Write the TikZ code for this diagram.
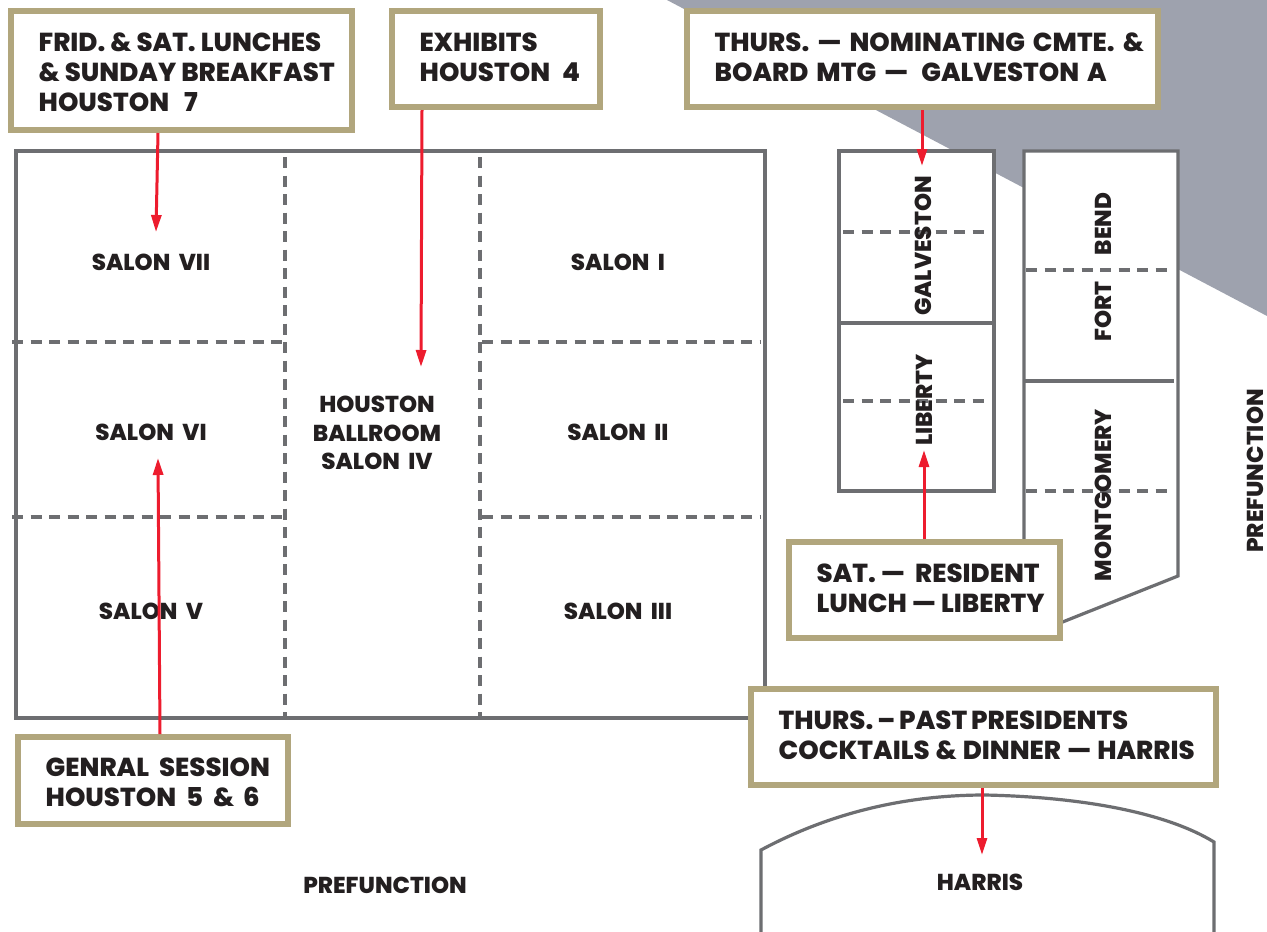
\documentclass[tikz,border=0pt]{standalone}
\usepackage{fontspec}
\setmainfont{Poppins}[BoldFont={Poppins ExtraBold}]
\usetikzlibrary{arrows.meta,calc}
\definecolor{wall}{HTML}{6D6E71}
\definecolor{tan}{HTML}{B1A67D}
\definecolor{slate}{HTML}{9EA2AE}
\definecolor{redline}{HTML}{ED1C2E}
\definecolor{ink}{HTML}{231F20}
\newcommand{\boxfont}{\fontsize{26}{30.2}\selectfont\bfseries}
\newcommand{\labfont}{\fontsize{23}{28.5}\selectfont\bfseries}
\newcommand{\gap}[1]{\hspace{#1pt}}
\tikzset{
 x=1pt,y=-1pt,
 wallline/.style={draw=wall,line width=3.2pt},
 dashline/.style={draw=wall,line width=3.2pt,dash pattern=on 11pt off 7.5pt},
 callout/.style={draw=tan,line width=6pt,fill=white,anchor=north west,inner sep=0pt},
 calltext/.style={text=ink,font=\boxfont,anchor=west,align=left,inner sep=0pt},
 roomlabel/.style={text=ink,font=\labfont,inner sep=0pt,align=center},
 leader/.style={draw=redline,line width=3pt,-{Triangle[length=17pt,width=10pt]}},
}
\newcommand{\callbox}[7]{% name, x0,y0,x1,y1, text centre y, text
 \pgfmathsetmacro{\bw}{#4-#2-6}\pgfmathsetmacro{\bh}{#5-#3-6}
 \node[callout,minimum width=\bw pt,minimum height=\bh pt] (#1) at (#2,#3) {};
 \node[calltext] (#1t) at (#2+30.5,#6) {#7};
}
\begin{document}
\begin{tikzpicture}
\useasboundingbox (0,0) rectangle (1267,932);
\fill[white] (0,0) rectangle (1267,932);
\fill[slate] (667,0) -- (1267,316) -- (1267,0) -- cycle;
% main ballroom
\draw[wallline,fill=white] (16,151) rectangle (765,718);
\draw[dashline] (285,157) -- (285,716);
\draw[dashline] (480,157) -- (480,716);
\draw[dashline] (12,342) -- (288,342);
\draw[dashline] (12,517) -- (288,517);
\draw[dashline] (482,342) -- (760,342);
\draw[dashline] (482,517) -- (760,517);
% galveston / liberty
\draw[wallline,fill=white] (839,151) rectangle (994,491);
\draw[wallline] (839,323) -- (992,323);
\draw[dashline] (843,232) -- (985,232);
\draw[dashline] (843,401) -- (985,401);
% fort bend / montgomery
\draw[wallline,fill=white,line join=miter] (1024,560) -- (1024,151) -- (1178,151) -- (1178,576) -- (1050,627) -- (1024,627) -- cycle;
\draw[wallline] (1024,381) -- (1174,381);
\draw[dashline] (1026,270) -- (1170,270);
\draw[dashline] (1026,491) -- (1170,491);
% harris
\draw[wallline] (761,932) -- (761,850) .. controls (830,813) and (905,795) .. (985,795) .. controls (1080,797) and (1165,812) .. (1214,842) -- (1214,932);
% labels
\node[roomlabel] (s7) at (151,262) {SALON\ \gap{4}VII};
\node[roomlabel] (s6) at (151,432) {SALON\ \gap{4}VI};
\node[roomlabel] (s5) at (151,611) {SALON\ \gap{4}V};
\node[roomlabel] (s1) at (618,262) {SALON\ \gap{4}I};
\node[roomlabel] (s2) at (618,432) {SALON\ \gap{4}II};
\node[roomlabel] (s3) at (618,611) {SALON\ \gap{4}III};
\node[roomlabel] (s4) at (377,433) {HOUSTON\\BALLROOM\\SALON\ \gap{4}IV};
\node[roomlabel,rotate=90] (gal) at (923,246) {GALVESTON};
\node[roomlabel,rotate=90] (lib) at (924,400) {LIBERTY};
\node[roomlabel,rotate=90] (fb) at (1103,267) {FORT\hspace{26pt}BEND};
\node[roomlabel,rotate=90] (mon) at (1103,495) {MONTGOMERY};
\node[roomlabel,rotate=90] (pre1) at (1255,471) {PREFUNCTION};
\node[roomlabel] (pre2) at (385,885) {PREFUNCTION};
\node[roomlabel] (har) at (980,882) {HARRIS};
% callouts
\callbox{b1}{8}{8}{355}{133}{72.5}{FRID. \& SAT. LUNCHES\\\& SUNDAY BREAKFAST\\HOUSTON\gap{10} 7}
\callbox{b2}{389}{8}{603}{110}{57.5}{EXHIBITS\\HOUSTON\gap{7} 4}
\callbox{b3}{684}{8}{1161}{110}{57.5}{THURS.\gap{3} —\gap{3} NOMINATING\gap{3} CMTE.\gap{3} \&\\BOARD\gap{3} MTG\gap{3} —\ \ \gap{3}GALVESTON\gap{3} A}
\callbox{b4}{786}{539}{1063}{641}{588}{SAT. —\ \ RESIDENT\\LUNCH — LIBERTY}
\callbox{b5}{748}{686}{1219}{788}{735.5}{THURS.\gap{-1} –\gap{-1} PAST\gap{-1} PRESIDENTS\\COCKTAILS\gap{1} \&\gap{1} DINNER\gap{1} —\gap{1} HARRIS}
\callbox{b6}{15}{734}{291}{827}{782}{GENRAL\gap{5} SESSION\\HOUSTON\gap{5} 5\gap{5} \&\gap{4} 6}
% leaders
\coordinate (e1) at (156,232);
\coordinate (e2) at (421,367);
\coordinate (e3) at (922,166);
\coordinate (e4) at (924,450);
\coordinate (e5) at (982,855);
\coordinate (e6) at (158,458);
\draw[leader] ([xshift=150pt]b1.south west) -- (e1);
\draw[leader] ([xshift=33pt]b2.south west) -- (e2);
\draw[leader] ([xshift=238pt]b3.south west) -- (e3);
\draw[leader] ([xshift=138pt]b4.north west) -- (e4);
\draw[leader] ([xshift=234pt]b5.south west) -- (e5);
\draw[leader] ([xshift=145pt]b6.north west) -- (e6);
\end{tikzpicture}
\end{document}
